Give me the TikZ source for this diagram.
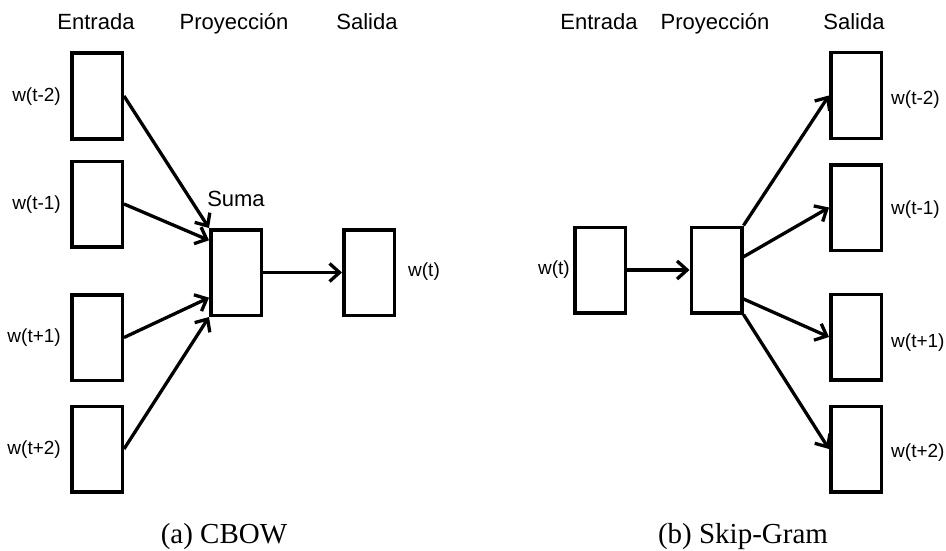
\documentclass[tikz,border=0pt]{standalone}
\usepackage{fontspec}
\setmainfont{Liberation Sans}
\newfontfamily\capfont{Liberation Serif}
\usetikzlibrary{arrows.meta}
\begin{document}
\begin{tikzpicture}[x=1pt,y=-1pt,
  vbox/.style={draw,line width=3.5pt,minimum width=50.5pt,minimum height=85.5pt,inner sep=0pt},
  conn/.style={line width=3.3pt,-{Straight Barb[length=10pt,width=18pt,line width=3.3pt]}},
  hdr/.style={anchor=base,inner sep=0pt,font=\fontsize{22}{26}\selectfont},
  lbl/.style={inner sep=0pt,font=\fontsize{19}{22}\selectfont},
  captext/.style={anchor=base,inner sep=0pt,font=\capfont\fontsize{29}{34}\selectfont}]
\useasboundingbox (0,0) rectangle (946,551);
% ---- CBOW ----
\node[hdr] (h1) at (96,30) {Entrada};
\node[hdr] (h2) at (234,30) {Proyección};
\node[hdr] (h3) at (367,30) {Salida};
\node[vbox] (i1) at (97,96) {};
\node[vbox] (i2) at (97,204) {};
\node[vbox] (i3) at (97,337.5) {};
\node[vbox] (i4) at (97,449) {};
\node[vbox] (p) at (236,272.5) {};
\node[vbox] (o) at (369,272.5) {};
\node[lbl,anchor=east] (l1) at (61,97) {w(t-2)};
\node[lbl,anchor=east] (l2) at (61,205) {w(t-1)};
\node[lbl,anchor=east] (l3) at (61,338) {w(t+1)};
\node[lbl,anchor=east] (l4) at (61,450) {w(t+2)};
\node[lbl,anchor=west] (lo) at (408,272) {w(t)};
\node[hdr] (suma) at (236,206) {Suma};
\draw[conn] (i1.east) -- (p.north west);
\draw[conn] (i2.east) -- (p.130);
\draw[conn] (i3.east) -- (p.223);
\draw[conn] (i4.east) -- (p.south west);
\draw[conn] (p.east) -- (o.west);
\node[captext] (ca) at (224,543) {(a) CBOW};
% ---- Skip-Gram ----
\node[hdr] (g1) at (599,30) {Entrada};
\node[hdr] (g2) at (715,30) {Proyección};
\node[hdr] (g3) at (854,30) {Salida};
\node[vbox] (ri) at (600,270) {};
\node[vbox] (rp) at (716.5,270) {};
\node[vbox] (r1) at (856,95.5) {};
\node[vbox] (r2) at (856,207.5) {};
\node[vbox] (r3) at (856,337) {};
\node[vbox] (r4) at (856,449) {};
\node[lbl,anchor=east] (rl) at (570,270) {w(t)};
\node[lbl,anchor=west] (m1) at (891,100) {w(t-2)};
\node[lbl,anchor=west] (m2) at (891,210) {w(t-1)};
\node[lbl,anchor=west] (m3) at (891,343) {w(t+1)};
\node[lbl,anchor=west] (m4) at (891,453) {w(t+2)};
\draw[conn] (ri.east) -- (rp.west);
\draw[conn] (rp.north east) -- (r1.west);
\draw[conn] (rp.26) -- (r2.west);
\draw[conn] (rp.-47) -- (r3.west);
\draw[conn] (rp.south east) -- (r4.west);
\node[captext] (cb) at (743,543) {(b) Skip-Gram};
\end{tikzpicture}
\end{document}
